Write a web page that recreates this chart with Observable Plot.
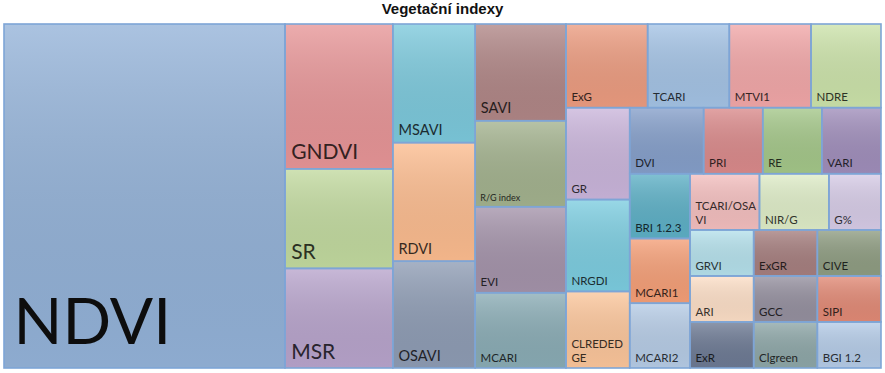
<!DOCTYPE html>
<html>
<head>
<meta charset="utf-8">
<script src="https://cdn.jsdelivr.net/npm/d3@7"></script>
<script src="https://cdn.jsdelivr.net/npm/@observablehq/plot@0.6"></script>
<style>
  body { margin: 0; background: #fff; }
  #title { height: 22px; line-height: 24px; text-align: center; font: bold 15px "Liberation Sans", Arial, sans-serif; color: #111; }
  #chart svg { display: block; }
</style>
</head>
<body>
<div id="title">Vegetační indexy</div>
<div id="chart"></div>
<script>
// Index names, in the order shown
const names = ["NDVI","GNDVI","SR","MSR","MSAVI","RDVI","OSAVI","SAVI","R/G index","EVI","MCARI",
  "ExG","TCARI","MTVI1","NDRE","GR","NRGDI","CLREDEDGE","DVI","PRI","RE","VARI",
  "BRI 1.2.3","MCARI1","MCARI2","TCARI/OSAVI","NIR/G","G%",
  "GRVI","ARI","ExR","ExGR","CIVE","GCC","Clgreen","SIPI","BGI 1.2"];
// Displayed labels (with line breaks where the original wraps)
const labels = ["NDVI","GNDVI","SR","MSR","MSAVI","RDVI","OSAVI","SAVI","R/G index","EVI","MCARI",
  "ExG","TCARI","MTVI1","NDRE","GR","NRGDI","CLREDED\nGE","DVI","PRI","RE","VARI",
  "BRI 1.2.3","MCARI1","MCARI2","TCARI/OSA\nVI","NIR/G","G%",
  "GRVI","ARI","ExR","ExGR","CIVE","GCC","Clgreen","SIPI","BGI 1.2"];
// Values (estimated from tile areas)
const values = [99,16,11,11,10,10,9,9,8,8,7,
  7,7,7,6,6,6,5,5,4,4,4,
  4,4,4,4,4,3,
  3,3,3,3,3,3,3,3,3];
// Tile colours
const colors = ["#93b2d8","#e79597","#c2da9f","#b8a4cc","#7cc9dc","#fcbc8f","#8e9cb4","#b08686","#a3b28e","#a493aa","#8aacb5",
  "#ec9c80","#a4c3e5","#f2a7a8","#cce3aa","#cab5db","#7ccde0","#fcc69b","#859fca","#da8a8b","#a4c789","#a08ebb",
  "#5db0c6","#f59f77","#b6cce6","#f4bfbf","#dfedc8","#d7cce7",
  "#b5e1ec","#fddfc7","#6d7a94","#a67f7f","#8f9d82","#95909f","#8ea7a8","#e28a76","#b5cce8"];

// Strip tiling (spreadsheet-style squarify): a strip grows while the newly added tile
// is no less square than the previously added one.
function stripTile(parent, x0, y0, x1, y1) {
  const nodes = parent.children, n = nodes.length;
  let remaining = parent.value, i = 0;
  while (i < n) {
    const dx = x1 - x0, dy = y1 - y0;
    const horizontal = dx < dy;
    const len = horizontal ? dx : dy;
    const k = (dx * dy) / remaining;
    let sum = 0, j = i, prev = Infinity;
    while (j < n) {
      const s = sum + nodes[j].value;
      const thick = s * k / len;
      const itemLen = nodes[j].value * k / thick;
      const r = Math.max(thick / itemLen, itemLen / thick);
      if (r > prev) break;
      prev = r; sum = s; j++;
    }
    const thick = sum * k / len;
    let c = horizontal ? x0 : y0;
    for (let m = i; m < j; m++) {
      const l = nodes[m].value * k / thick;
      if (horizontal) { nodes[m].x0 = c; nodes[m].x1 = c + l; nodes[m].y0 = y0; nodes[m].y1 = y0 + thick; }
      else { nodes[m].y0 = c; nodes[m].y1 = c + l; nodes[m].x0 = x0; nodes[m].x1 = x0 + thick; }
      c += l;
    }
    if (horizontal) y0 += thick; else x0 += thick;
    remaining -= sum; i = j;
  }
}

const W = 877, H = 344;
const root = d3.hierarchy({children: names.map((n, i) => ({name: n, label: labels[i], value: values[i], color: colors[i]}))})
  .sum(d => d.value || 0)
  .sort((a, b) => b.value - a.value);
d3.treemap().tile(stripTile).size([W, H]).round(false)(root);
const cells = root.leaves().map(l => ({...l.data, x0: l.x0, x1: l.x1, y0: l.y0, y1: l.y1}));

function fontSize(d) {
  if (d.value >= 50) return 64;
  if (d.value >= 11) return 21;
  if (d.value >= 9) return 14.5;
  if (d.name === "R/G index") return 9;
  return 11.5;
}
const pad = d => 3 + 0.33 * fontSize(d);
const inset = d => 4 + 0.08 * fontSize(d);
const textColor = d => d.value >= 50 ? "#0d0d0d" : d3.interpolateRgb(d.color, "#000")(0.78);

const plot = Plot.plot({
  width: 885,
  height: 351,
  margin: 0,
  x: {domain: [0, W], range: [4, 4 + W], axis: null},
  y: {domain: [0, H], range: [2, 2 + H], axis: null},
  color: {type: "identity"},
  marks: [
    Plot.rect(cells, {x1: "x0", x2: "x1", y1: "y0", y2: "y1", fill: "color"}),
    Plot.rect(cells, {x1: "x0", x2: "x1", y1: "y0", y2: "y1", fill: "url(#shade)"}),
    Plot.rect(cells, {x1: "x0", x2: "x1", y1: "y0", y2: "y1", fill: "none", stroke: "#7ea5d6", strokeWidth: 1.6}),
    Plot.text(cells, {
      x: d => d.x0 + inset(d),
      y: d => d.y1 - pad(d),
      text: "label",
      fontSize: d => fontSize(d),
      textAnchor: "start",
      lineAnchor: "bottom",
      lineHeight: 1.15,
      fill: textColor,
      fontFamily: "Lato, 'Open Sans', sans-serif"
    })
  ]
});

const svg = d3.select(plot);
const defs = svg.insert("defs", ":first-child");
const g = defs.append("linearGradient").attr("id", "shade").attr("x1", 0).attr("y1", 0).attr("x2", 0).attr("y2", 1);
g.append("stop").attr("offset", "0%").attr("stop-color", "#fff").attr("stop-opacity", 0.22);
g.append("stop").attr("offset", "100%").attr("stop-color", "#000").attr("stop-opacity", 0.04);
document.getElementById("chart").append(plot);
</script>
</body>
</html>
